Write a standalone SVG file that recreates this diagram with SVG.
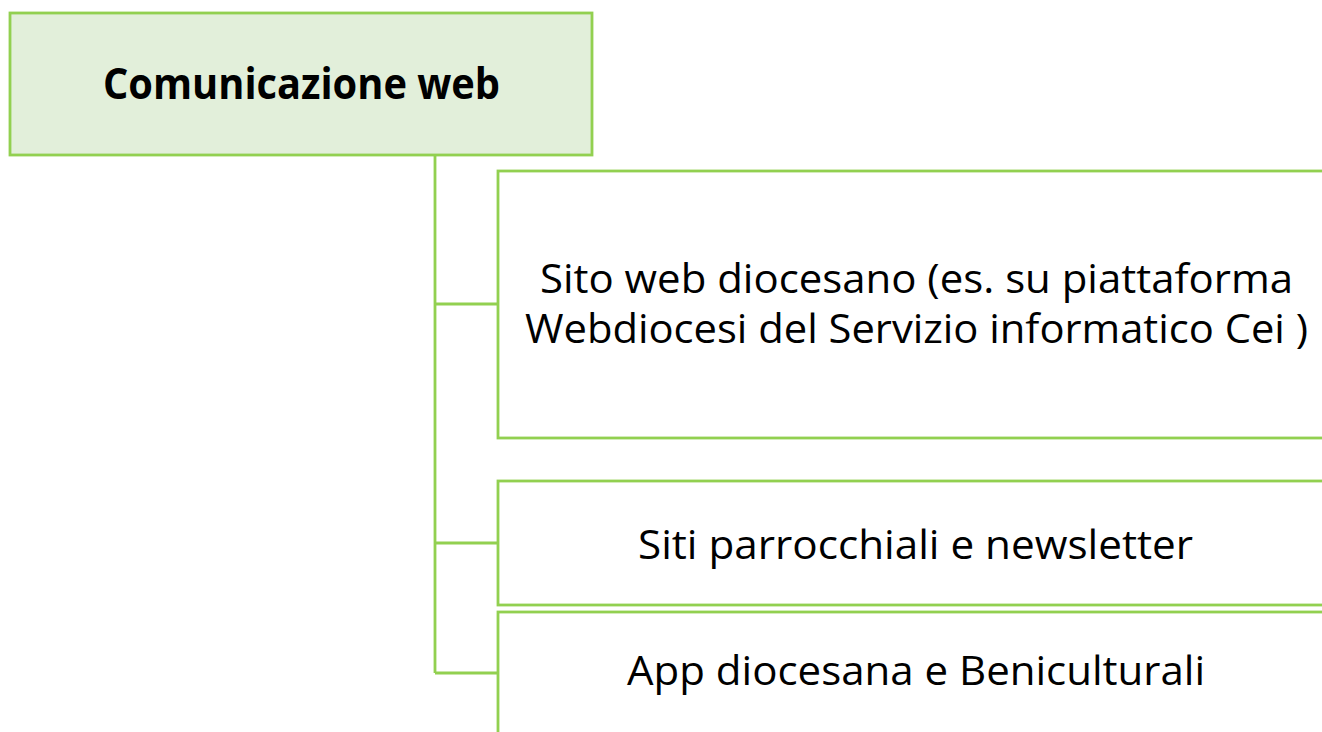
<svg xmlns="http://www.w3.org/2000/svg" width="1322" height="732" viewBox="0 0 1322 732">
<style>
.box{stroke:#92D050;stroke-width:2.8;fill:#FFFFFF}
.root{fill:#E2EFDA}
.conn{stroke:#92D050;stroke-width:2.8;fill:none}
.t{font-family:"Open Sans","Liberation Sans",sans-serif;font-size:40px;fill:#000000}
.b{font-weight:bold;font-size:43px}
</style>
<rect width="1322" height="732" fill="#FFFFFF"/>
<g id="connectors">
<path class="conn" d="M435,155 V673 M435,304 H498 M435,543 H498 M435,673 H498"/>
</g>
<g id="root">
<rect class="box root" x="10" y="13" width="582" height="142"/>
<text class="t b" x="103" y="99" textLength="397" lengthAdjust="spacingAndGlyphs">Comunicazione web</text>
</g>
<g id="node1">
<rect class="box" x="498" y="171" width="860" height="267"/>
<text class="t" x="540" y="293" textLength="753" lengthAdjust="spacingAndGlyphs">Sito web diocesano (es. su piattaforma</text>
<text class="t" x="525" y="343" textLength="783" lengthAdjust="spacingAndGlyphs">Webdiocesi del Servizio informatico Cei )</text>
</g>
<g id="node2">
<rect class="box" x="498" y="481" width="860" height="124"/>
<text class="t" x="638" y="559" textLength="555" lengthAdjust="spacingAndGlyphs">Siti parrocchiali e newsletter</text>
</g>
<g id="node3">
<rect class="box" x="498" y="612" width="860" height="160"/>
<text class="t" x="627" y="685" textLength="578" lengthAdjust="spacingAndGlyphs">App diocesana e Beniculturali</text>
</g>
</svg>
